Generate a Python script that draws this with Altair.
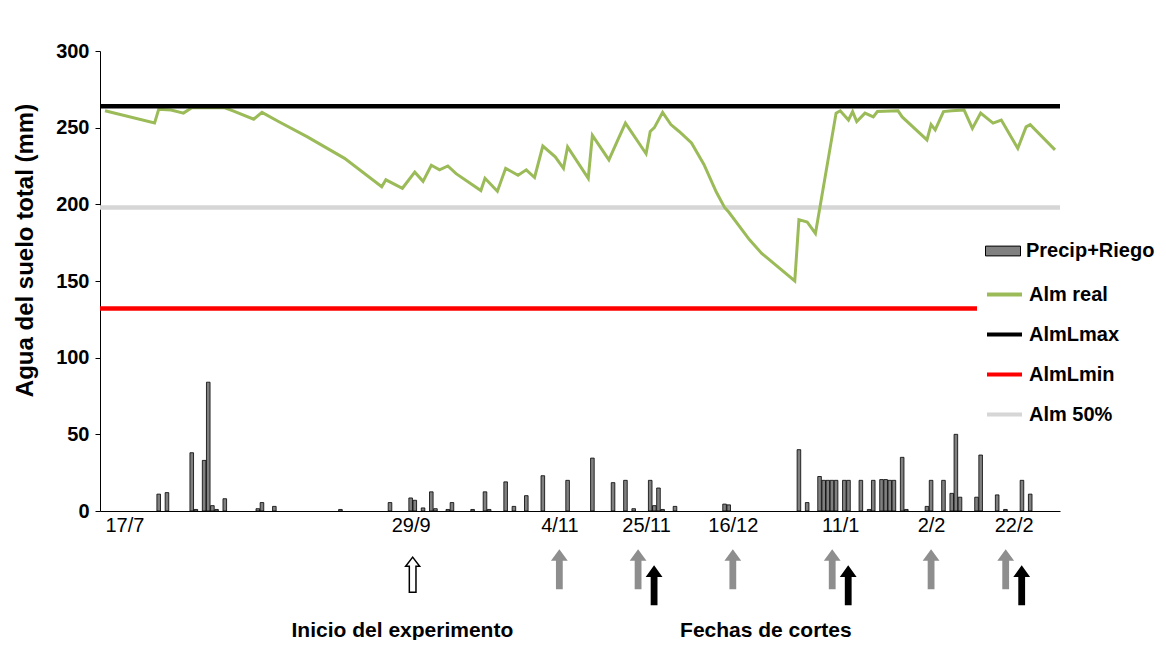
import altair as alt
import pandas as pd

INICIO = "2012-07-17"
FIN = "2013-03-04"

# Precip+Riego (mm) - day offset since 17/7
lluvia_dia = [13, 15, 21, 22, 24, 25, 26, 27, 29, 37, 38, 41, 57, 69,
              74, 75, 77, 79, 80, 83, 84, 89, 92, 93, 97, 99, 102, 106,
              112, 118, 123, 126, 128, 132, 133, 134, 135, 138,
              150, 151, 168, 170, 173, 174, 175, 176, 177, 179, 180, 183,
              185, 186, 188, 189, 190, 191, 193, 194, 199, 200, 203, 205,
              206, 207, 211, 212, 216, 218, 222, 224]
lluvia_mm = [11, 12, 38, 1, 33, 84, 3.5, 1, 8, 1.5, 5.5, 3, 1, 5.5,
             8.5, 7, 2, 12.5, 1.5, 1, 5.5, 1, 12.5, 1, 19, 3, 10, 23,
             20, 34.5, 18.5, 20, 1.5, 20, 3.5, 15, 1, 3,
             4.5, 4, 40, 5.5, 22.5, 20, 20, 20, 20, 20, 20, 20,
             1, 20, 20.5, 20.5, 20, 20, 35, 1, 3, 20, 20, 11.5,
             50, 9, 9, 36.5, 10.5, 1, 20, 11]

# Alm real (mm)
alm_dia = [0, 12, 13, 16, 19, 21, 29, 31, 36, 38, 42, 49, 58, 67, 68, 72,
           75, 77, 79, 81, 83, 85, 91, 92, 95, 97, 100, 102, 104, 106,
           109, 111, 112, 117, 118, 122, 124, 126, 131, 132, 133, 135, 137,
           139, 142, 145, 148, 150, 151, 156, 159, 167, 168, 170, 172,
           177, 178, 180, 181, 182, 184, 186, 187, 192, 193, 199, 200,
           201, 203, 205, 208, 210, 212, 215, 217, 221, 223, 224, 230]
alm_mm = [261, 253, 262, 261.5, 259.5, 263, 263, 261, 255.5, 260, 254, 244,
          230, 211.5, 216, 210.5, 221, 215, 225.5, 222.5, 225, 220, 209,
          217, 208.5, 223.5, 219, 222.5, 217.5, 238, 231, 223.5, 237.5,
          217, 245, 229, 241, 253, 233, 247.5, 250, 260, 252, 247.5, 240,
          226, 208, 198, 195, 177, 168, 150, 190, 188.5, 181, 259.5, 261,
          255, 260.5, 254, 259.5, 257, 260.5, 261, 257, 242, 252, 248.5,
          260.5, 261, 261.5, 249.5, 259.5, 253, 255, 236.5, 250.5, 252,
          235.5]

niveles_serie = ["AlmLmax", "AlmLmin", "Alm 50%"]
niveles_mm = [264, 132, 198]

series = ["Alm real", "AlmLmax", "AlmLmin", "Alm 50%"]
colores = ["#9BBB59", "#000000", "#FF0000", "#D6D6D6"]

etiq_dia = [0, 74, 110, 131, 152, 178, 200, 220]
y_ticks = [0, 50, 100, 150, 200, 250, 300]

corte_gris_solo = [110, 152, 200]
corte_gris_par = [131, 178, 220]
corte_negro = [131, 178, 220]
inicio_exp = [74]

notas_txt = ["Inicio del experimento", "Fechas de cortes"]
notas_dia = [72, 160]

Y_GRIS, Y_NEGRA, Y_INICIO, Y_NOTA = -38, -48.5, -41.5, -78

assert len(lluvia_dia) == len(lluvia_mm)
assert len(alm_dia) == len(alm_mm)

base = pd.Timestamp(INICIO)


def fechas(dias):
    return [(base + pd.Timedelta(days=d)).strftime("%Y-%m-%d") for d in dias]


def ms(s):
    return int(pd.Timestamp(s, tz="UTC").value // 10**6)


FONT = "Liberation Sans"
xscale = alt.Scale(type="utc", domain=[ms(INICIO), ms(FIN)])
yscale = alt.Scale(domain=[0, 300], nice=False, zero=False)
sscale = alt.Scale(domain=series, range=colores)

xaxis = alt.Axis(values=[ms(f) for f in fechas(etiq_dia)],
                 labelExpr="utcFormat(datum.value, '%-d/%-m')",
                 labelAlign={"condition": {"test": f"datum.value <= {ms(INICIO)}",
                                           "value": "left"}, "value": "center"},
                 title=None, ticks=False, grid=False, labelFlush=False,
                 labelFont=FONT, labelFontSize=20, labelColor="black",
                 labelPadding=4, domainColor="black", domainWidth=1)
yaxis = alt.Axis(values=y_ticks,
                 title="Agua del suelo total (mm)", grid=False,
                 labelFont=FONT, labelFontSize=20, labelFontWeight="bold",
                 labelColor="black", tickSize=5, tickColor="black",
                 labelPadding=6, domainColor="black", domainWidth=1,
                 titleFont=FONT, titleFontSize=24, titleFontWeight="bold",
                 titleColor="black", titleX=-75, titleY=199,
                 titleBaseline="middle")

df_lluvia = pd.DataFrame({"fecha": fechas(lluvia_dia), "mm": lluvia_mm,
                          "serie": "Precip+Riego"})
df_alm = pd.DataFrame({"fecha": fechas(alm_dia), "mm": alm_mm, "serie": "Alm real"})
df_niv = pd.DataFrame({"serie": niveles_serie, "mm": niveles_mm})

leg_stroke = alt.Legend(orient="none", legendX=877, legendY=216, title=None,
                        symbolType="stroke", symbolSize=1225, symbolStrokeWidth=4,
                        labelFont=FONT, labelFontSize=20, labelFontWeight="bold",
                        labelColor="black", fillColor="white", padding=8,
                        rowPadding=10, labelOffset=5)

X = lambda: alt.X("fecha:T", scale=xscale, axis=xaxis)
Y = lambda f="mm": alt.Y(f"{f}:Q", scale=yscale, axis=yaxis)

bars = alt.Chart(df_lluvia).mark_bar(width=3.6, stroke="black", strokeWidth=0.8).encode(
    x=X(),
    y=Y(),
    fill=alt.Fill("serie:N", scale=alt.Scale(domain=["Precip+Riego"], range=["#808080"]),
                  legend=alt.Legend(orient="none", legendX=885, legendY=182, title=None,
                                    symbolType="M-1,-0.28H1V0.28H-1Z", symbolSize=1225,
                                    symbolStrokeColor="black", symbolStrokeWidth=1,
                                    labelFont=FONT, labelFontSize=20,
                                    labelFontWeight="bold", labelColor="black",
                                    padding=0, labelOffset=5)),
)

rule_bajo = alt.Chart(df_niv).transform_filter(alt.datum.serie == "Alm 50%").mark_rule(
    strokeWidth=4.5).encode(
    y=Y(),
    stroke=alt.Stroke("serie:N", scale=sscale, legend=leg_stroke),
)

linea = alt.Chart(df_alm).mark_line(strokeWidth=3).encode(
    x=X(),
    y=Y(),
    stroke=alt.Stroke("serie:N", scale=sscale, legend=leg_stroke),
)

rule_alto = alt.Chart(df_niv).transform_filter(alt.datum.serie != "Alm 50%").mark_rule(
    strokeWidth=4.5).encode(
    y=Y(),
    stroke=alt.Stroke("serie:N", scale=sscale, legend=leg_stroke),
)

ARROW = "M0,-1L0.42,-0.42L0.17,-0.42L0.17,1L-0.17,1L-0.17,-0.42L-0.42,-0.42Z"
ARROW_H = "M0,-1L0.4,-0.48L0.19,-0.48L0.19,1L-0.19,1L-0.19,-0.48L-0.4,-0.48Z"


def flechas(dias, yv, color, xoff, shape=ARROW, size=1600, fill=None, stroke=None):
    d = pd.DataFrame({"fecha": fechas(dias), "mm": [yv] * len(dias)})
    props = dict(shape=shape, size=size, filled=True, opacity=1, xOffset=xoff,
                 fill=fill or color, strokeWidth=1.5 if stroke else 0)
    if stroke:
        props["stroke"] = stroke
    return alt.Chart(d).mark_point(**props).encode(x=X(), y=Y())


f_gris1 = flechas(corte_gris_solo, Y_GRIS, "#8e8e8e", 0)
f_gris2 = flechas(corte_gris_par, Y_GRIS, "#8e8e8e", -8)
f_negra = flechas(corte_negro, Y_NEGRA, "#000000", 8)
f_inicio = flechas(inicio_exp, Y_INICIO, "white", 2, shape=ARROW_H, size=1225,
                   fill="white", stroke="black")

df_notas = pd.DataFrame({"fecha": fechas(notas_dia), "txt": notas_txt,
                         "mm": [Y_NOTA] * len(notas_txt)})
notas = alt.Chart(df_notas).mark_text(font=FONT, fontSize=21, fontWeight="bold",
                                      color="black", baseline="middle").encode(
    x=X(), y=Y(), text="txt:N",
)

chart = alt.layer(bars, rule_bajo, linea, rule_alto, f_gris1, f_gris2, f_negra,
                  f_inicio, notas).properties(
    width=960, height=460,
    padding={"left": 92, "top": 43, "right": 98, "bottom": 129},
    autosize=alt.AutoSizeParams(type="none"),
).configure(font=FONT).configure_view(stroke=None)

chart.save("out.html", embed_options={"renderer": "svg", "actions": False})
